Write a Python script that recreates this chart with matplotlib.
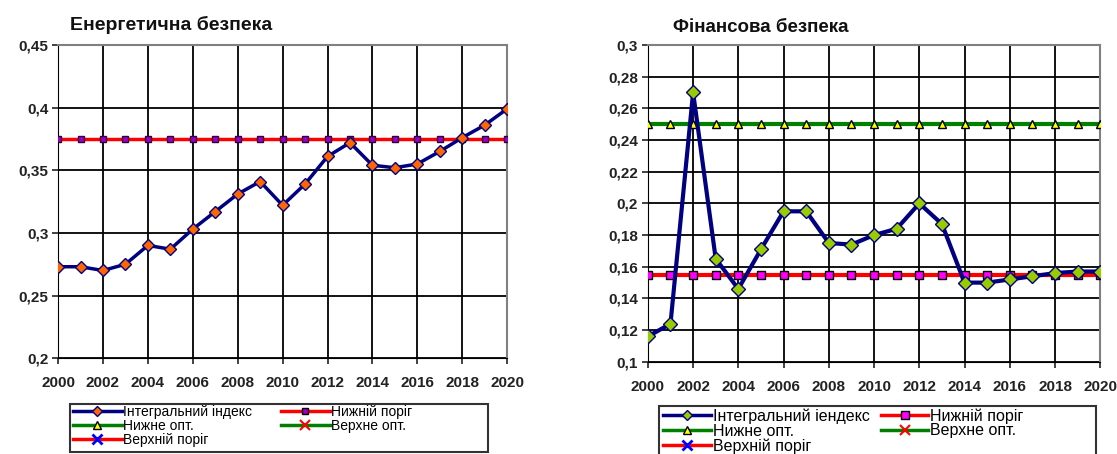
import matplotlib
matplotlib.use('Agg')
import matplotlib.pyplot as plt
from matplotlib.lines import Line2D
from matplotlib.patches import Rectangle
from matplotlib.ticker import FuncFormatter, MultipleLocator

plt.rcParams['font.family'] = ['Liberation Sans', 'DejaVu Sans']

years = list(range(2000, 2021))

# Енергетична безпека
energy_index = [0.273, 0.273, 0.270, 0.275, 0.290, 0.287, 0.303, 0.317, 0.331, 0.341, 0.322,
                0.339, 0.361, 0.372, 0.354, 0.352, 0.355, 0.365, 0.376, 0.386, 0.399]
energy_low = [0.375] * 21

# Фінансова безпека
fin_index = [0.116, 0.124, 0.270, 0.165, 0.146, 0.171, 0.195, 0.195, 0.175, 0.174, 0.180,
             0.184, 0.200, 0.187, 0.150, 0.150, 0.152, 0.154, 0.156, 0.157, 0.157]
fin_low = [0.155] * 21
fin_opt_low = [0.25] * 21

NAVY = '#000080'
W, H = 1117, 454


def comma(v, pos):
    return ('%g' % round(v, 3)).replace('.', ',')


def style_axes(ax, ylim, ystep):
    ax.set_xlim(2000, 2020)
    ax.set_ylim(*ylim)
    ax.xaxis.set_major_locator(MultipleLocator(2))
    ax.yaxis.set_major_locator(MultipleLocator(ystep))
    ax.yaxis.set_major_formatter(FuncFormatter(comma))
    ax.grid(True, color='black', linewidth=1.3)
    ax.set_axisbelow(True)
    for s in ['top', 'right']:
        ax.spines[s].set_color('#808080')
        ax.spines[s].set_linewidth(1.5)
    for s in ['left', 'bottom']:
        ax.spines[s].set_color('black')
    ax.tick_params(direction='out', length=4, width=1.2, labelsize=11, colors='#222222')
    ax.tick_params(axis='x', pad=9)
    ax.tick_params(axis='y', pad=3)
    for lab in ax.get_xticklabels() + ax.get_yticklabels():
        lab.set_fontweight('bold')


def legend_handles(idx_face, idx_label, low_face, low_ms):
    h = [
        Line2D([], [], color=NAVY, lw=2.5, marker='D', ms=5, mfc=idx_face, mec=NAVY),
        Line2D([], [], color='#008000', lw=2.5, marker='^', ms=6, mfc='yellow', mec='black'),
        Line2D([], [], color='red', lw=2.5, marker='x', ms=7, mec='blue', mew=2),
        Line2D([], [], color='red', lw=2.5, marker='s', ms=low_ms, mfc=low_face, mec='black'),
        Line2D([], [], color='#008000', lw=2.5, marker='x', ms=7, mec='red', mew=1.5),
    ]
    labels = [idx_label, 'Нижне опт.', 'Верхній поріг', 'Нижній поріг', 'Верхне опт.']
    return h, labels


def box(x0, y0, x1, y1):
    fig.add_artist(Rectangle((x0 / W, 1 - y1 / H), (x1 - x0) / W, (y1 - y0) / H,
                             transform=fig.transFigure, fill=False,
                             edgecolor='#333333', lw=1.5))


fig = plt.figure(figsize=(11.17, 4.54), dpi=100)

# left chart
ax1 = fig.add_axes([0.052, 0.211, 0.402, 0.690])
ax1.plot(years, energy_low, color='red', lw=2.5, marker='s', ms=4,
         mfc='#9900cc', mec='#330033', zorder=3)
ax1.plot(years, energy_index, color=NAVY, lw=2.5, marker='D', ms=6,
         mfc='#ff6600', mec=NAVY, zorder=4)
style_axes(ax1, (0.2, 0.45), 0.05)
fig.text(70 / W, 1 - 25 / H, 'Енергетична безпека', fontsize=14, fontweight='bold',
         color='#111111', va='center')
h, l = legend_handles('#ff6600', 'Інтегральний індекс', '#9900cc', 4)
fig.legend(h, l, ncol=2, loc='upper left', bbox_to_anchor=(73 / W, 1 - 405 / H),
           fontsize=10, frameon=False, labelspacing=0, handlelength=3.5,
           handletextpad=0.1, columnspacing=2.1, borderpad=0, borderaxespad=0)
box(70, 404, 488, 452)

# right chart
ax2 = fig.add_axes([0.580, 0.203, 0.405, 0.698])
ax2.plot(years, fin_opt_low, color='#008000', lw=3, marker='^', ms=6,
         mfc='yellow', mec='black', zorder=3)
ax2.plot(years, fin_low, color='red', lw=3, marker='s', ms=6,
         mfc='#ff00ff', mec='black', zorder=3)
ax2.plot(years, fin_index, color=NAVY, lw=3, marker='D', ms=7,
         mfc='#99cc00', mec=NAVY, zorder=4)
style_axes(ax2, (0.1, 0.3), 0.02)
fig.text(673 / W, 1 - 27 / H, 'Фінансова безпека', fontsize=13.5, fontweight='bold',
         color='#111111', va='center')
h, l = legend_handles('#99cc00', 'Інтегральний іендекс', '#ff00ff', 6)
fig.legend(h, l, ncol=2, loc='upper left', bbox_to_anchor=(663 / W, 1 - 408 / H),
           fontsize=11.5, frameon=False, labelspacing=0, handlelength=3.0,
           handletextpad=0.1, columnspacing=0.7, borderpad=0, borderaxespad=0)
box(659, 406, 1096, 460)

fig.savefig('out.png', dpi=100)
